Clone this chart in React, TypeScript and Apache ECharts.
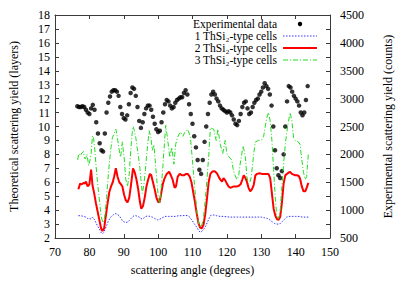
import React, { useEffect, useRef } from 'react';
import * as echarts from 'echarts';

const FONT = "'Liberation Serif','DejaVu Serif',serif";

// Experimental data: [scattering angle (deg), counts]
const experimental: [number, number][] = [
  [76.5, 2862], [77, 2850], [77.5, 2850], [78, 2862], [78.5, 2850], [79, 2800], [79.5, 2750], [80, 2725],
  [80.5, 2825], [81, 2888], [81.5, 2800], [82, 2575], [82.5, 2375], [83, 2200], [83.5, 2075], [84, 2050],
  [84.5, 2375], [85, 2750], [85.5, 2925], [86, 3038], [86.5, 3125], [87, 3150], [87.5, 3150], [88, 3125],
  [88.5, 3050], [89, 2850], [89.5, 2725], [90, 2650], [90.5, 2625], [91, 2700], [91.5, 2900], [92, 3100],
  [92.5, 3200], [93, 3175], [93.5, 3050], [94, 2850], [94.5, 2600], [95, 2475], [95.5, 2575], [96, 2725],
  [96.5, 2825], [97, 2875], [97.5, 2875], [98, 2800], [98.5, 2675], [99, 2550], [99.5, 2450], [100, 2400],
  [100.5, 2425], [101, 2575], [101.5, 2750], [102, 2900], [102.5, 2975], [103, 2950], [103.5, 2875], [104, 2825],
  [104.5, 2850], [105, 2925], [105.5, 2975], [106, 3000], [106.5, 3025], [107, 3025], [107.5, 3100], [108, 3150],
  [108.5, 3075], [109, 2900], [109.5, 2725], [110, 2550], [110.5, 2325], [111, 2125], [111.5, 1900], [112, 1725],
  [112.5, 1650], [113, 1900], [113.5, 2225], [114, 2500], [114.5, 2725], [115, 2925], [115.5, 3075], [116, 3125],
  [116.5, 3075], [117, 3000], [117.5, 2950], [118, 2875], [118.5, 2825], [119, 2800], [119.5, 2775], [120, 2750],
  [120.5, 2775], [121, 2750], [121.5, 2700], [122, 2625], [122.5, 2550], [123, 2525], [123.5, 2600], [124, 2725],
  [124.5, 2850], [125, 2925], [125.5, 2950], [126, 2825], [126.5, 2725], [127, 2750], [127.5, 2850], [128, 2925],
  [128.5, 2975], [129, 3000], [129.5, 3075], [130, 3125], [130.5, 3200], [131, 3275], [131.5, 3225], [132, 3175],
  [132.5, 3075], [133, 2875], [133.5, 2500], [134, 2075], [134.5, 1750], [135, 1625], [135.5, 1575], [136, 1700],
  [136.5, 2000], [137, 2500], [137.5, 2950], [138, 3225], [138.5, 3200], [139, 3125], [139.5, 3050], [140, 3000],
  [140.5, 2950], [141, 2875], [141.5, 2750], [142, 2700], [142.5, 2750], [143, 2975], [143.5, 3225],
];

// Theoretical yields (layers)
const oneCell: [number, number][] = [
  [76.8, 3.6], [77.5, 3.6], [78.3, 3.55], [79.0, 3.5], [79.5, 3.4], [80.0, 3.4], [80.5, 3.35], [80.9, 3.5],
  [81.4, 3.35], [81.9, 3.1], [82.4, 2.85], [82.9, 2.65], [83.4, 2.4], [83.8, 2.3], [84.2, 2.4], [84.6, 2.65],
  [85.1, 2.95], [85.6, 3.25], [86.2, 3.5], [86.7, 3.6], [87.2, 3.72], [87.7, 3.75], [88.2, 3.68], [88.7, 3.6],
  [89.2, 3.4], [89.6, 3.25], [90.1, 3.15], [90.6, 3.1], [91.1, 3.15], [91.6, 3.25], [92.1, 3.4], [92.5, 3.5],
  [93.0, 3.6], [93.5, 3.6], [94.0, 3.55], [94.5, 3.5], [95.0, 3.4], [95.4, 3.36], [95.9, 3.45], [96.4, 3.55],
  [97.0, 3.58], [97.6, 3.55], [98.3, 3.5], [99.0, 3.4], [99.8, 3.3], [100.5, 3.35], [101.2, 3.45], [102.0, 3.55],
  [103.0, 3.55], [104.0, 3.55], [105.0, 3.55], [106.0, 3.6], [107.0, 3.6], [108.0, 3.62], [108.6, 3.6], [109.2, 3.5],
  [109.9, 3.25], [110.4, 3.05], [110.9, 2.9], [111.4, 2.7], [111.9, 2.5], [112.3, 2.42], [112.8, 2.5], [113.3, 2.65],
  [113.8, 2.85], [114.3, 3.1], [114.8, 3.4], [115.2, 3.6], [115.7, 3.65], [116.2, 3.65], [117.0, 3.6], [118.0, 3.55],
  [119.0, 3.55], [120.0, 3.52], [121.0, 3.5], [122.0, 3.5], [123.0, 3.5], [124.0, 3.5], [125.0, 3.5], [126.0, 3.5],
  [127.0, 3.5], [128.0, 3.5], [129.0, 3.5], [130.0, 3.5], [131.0, 3.45], [131.8, 3.4], [132.6, 3.3], [133.2, 3.15],
  [133.8, 3.05], [134.4, 3.0], [135.0, 3.0], [135.6, 3.05], [136.2, 3.2], [136.8, 3.35], [137.4, 3.5], [138.0, 3.55],
  [139.0, 3.55], [140.0, 3.55], [141.0, 3.55], [142.0, 3.5], [143.0, 3.5], [143.7, 3.5],
];

const twoCells: [number, number][] = [
  [76.8, 5.5], [77.3, 5.9], [77.8, 5.85], [78.3, 5.95], [78.7, 5.9], [79.0, 6.05], [79.5, 5.7], [80.0, 5.85],
  [80.5, 6.9], [80.9, 5.8], [81.4, 5.2], [81.9, 4.5], [82.4, 3.9], [82.9, 3.3], [83.4, 2.7], [83.8, 2.5],
  [84.3, 2.7], [84.8, 3.6], [85.3, 4.5], [85.8, 5.3], [86.3, 5.7], [86.8, 6.0], [87.2, 6.4], [87.7, 7.0],
  [88.2, 6.4], [88.7, 6.0], [89.2, 5.85], [89.6, 5.7], [90.1, 5.1], [90.6, 4.7], [91.1, 4.55], [91.6, 4.9],
  [92.1, 5.8], [92.7, 7.0], [93.2, 6.7], [93.7, 6.2], [94.2, 5.5], [94.7, 4.6], [95.1, 4.1], [95.6, 4.3],
  [96.1, 4.9], [96.6, 5.7], [97.1, 6.2], [97.6, 6.6], [98.0, 6.5], [98.5, 6.0], [99.0, 5.5], [99.5, 4.9],
  [100.0, 4.6], [100.4, 4.55], [100.9, 5.2], [101.4, 5.9], [101.9, 6.3], [102.5, 6.6], [103.2, 6.75], [103.7, 6.5],
  [104.2, 6.2], [104.8, 5.6], [105.2, 5.7], [105.7, 6.4], [106.3, 6.6], [107.0, 6.5], [107.6, 6.5], [108.1, 6.6],
  [108.6, 6.6], [109.2, 6.4], [109.7, 6.0], [110.2, 5.3], [110.7, 4.6], [111.2, 3.8], [111.7, 3.1], [112.2, 2.75],
  [112.7, 2.7], [113.2, 2.95], [113.7, 3.7], [114.2, 4.8], [114.7, 6.0], [115.2, 6.6], [115.7, 6.75], [116.2, 6.8],
  [116.7, 6.75], [117.2, 6.6], [117.7, 6.35], [118.2, 6.15], [118.6, 6.05], [119.0, 6.3], [119.5, 6.15], [120.0, 5.9],
  [120.5, 5.7], [121.0, 5.6], [121.5, 5.65], [122.0, 5.7], [122.5, 5.7], [123.0, 5.7], [123.5, 5.75], [124.0, 5.85],
  [124.5, 6.2], [124.9, 6.5], [125.4, 6.3], [125.8, 6.05], [126.3, 5.6], [126.8, 5.35], [127.3, 5.5], [127.8, 5.8],
  [128.3, 6.5], [128.8, 6.6], [129.5, 6.65], [130.2, 6.6], [130.9, 6.6], [131.5, 6.6], [132.1, 6.6], [132.6, 6.3],
  [133.1, 5.2], [133.6, 4.1], [134.1, 3.6], [134.6, 3.35], [135.0, 3.3], [135.5, 3.5], [136.0, 4.5], [136.5, 5.9],
  [137.0, 6.5], [137.5, 6.6], [138.0, 6.7], [138.4, 6.75], [138.9, 6.6], [139.4, 6.55], [139.9, 6.5], [140.4, 6.5],
  [140.9, 6.45], [141.3, 6.25], [141.8, 5.7], [142.3, 5.35], [142.8, 5.35], [143.2, 5.6], [143.7, 5.95],
];

const threeCells: [number, number][] = [
  [76.6, 7.6], [76.9, 8.05], [77.4, 7.9], [77.8, 8.1], [78.3, 8.2], [78.6, 7.7], [78.9, 7.7], [79.3, 8.0],
  [79.8, 7.2], [80.2, 7.6], [80.5, 8.05], [80.9, 9.34], [81.2, 9.2], [81.6, 8.3], [81.9, 7.3], [82.3, 6.2],
  [82.7, 5.2], [83.1, 4.3], [83.4, 3.6], [83.9, 3.1], [84.3, 3.3], [84.6, 3.8], [85.0, 4.9], [85.3, 5.9],
  [85.6, 6.8], [85.9, 7.6], [86.3, 8.5], [86.7, 9.2], [87.2, 9.5], [87.7, 9.8], [88.1, 9.3], [88.5, 8.6],
  [88.8, 8.1], [89.1, 7.8], [89.4, 8.5], [89.6, 8.9], [89.9, 8.2], [90.1, 7.8], [90.4, 6.8], [90.6, 6.2],
  [91.1, 5.7], [91.6, 6.6], [92.1, 8.5], [92.4, 9.4], [92.7, 10.0], [93.1, 9.7], [93.5, 9.2], [93.9, 8.5],
  [94.3, 7.8], [94.7, 7.0], [95.0, 6.2], [95.4, 5.2], [95.9, 5.9], [96.3, 6.9], [96.6, 7.8], [97.0, 8.8],
  [97.4, 9.7], [97.9, 9.2], [98.3, 8.3], [98.8, 8.7], [99.3, 7.1], [99.7, 5.9], [100.1, 4.8], [100.5, 4.5],
  [101.0, 5.9], [101.4, 7.2], [101.7, 8.3], [102.2, 10.1], [102.7, 9.2], [103.1, 8.4], [103.4, 7.8], [104.0, 8.5],
  [104.6, 7.3], [105.1, 8.7], [105.6, 9.2], [106.0, 9.4], [106.5, 9.6], [107.2, 9.3], [107.8, 9.6], [108.5, 9.8],
  [108.9, 9.6], [109.4, 9.2], [109.9, 7.8], [110.3, 6.6], [110.7, 5.5], [111.3, 3.8], [111.8, 3.0], [112.3, 2.75],
  [112.8, 3.0], [113.2, 3.4], [113.8, 5.0], [114.2, 6.2], [114.7, 7.8], [115.2, 9.9], [115.7, 9.85], [116.2, 9.8],
  [116.6, 9.3], [116.9, 9.0], [117.4, 9.8], [117.8, 9.2], [118.1, 8.7], [118.8, 8.05], [119.5, 9.0], [120.0, 8.05],
  [120.7, 7.8], [121.4, 7.6], [121.8, 7.0], [122.2, 6.6], [122.9, 6.2], [123.4, 6.4], [123.8, 7.2], [124.2, 7.8],
  [124.7, 8.6], [125.0, 8.3], [125.4, 7.8], [125.8, 6.4], [126.3, 5.9], [126.7, 6.0], [127.1, 6.4], [127.5, 7.3],
  [127.8, 8.05], [128.3, 8.9], [129.2, 9.0], [130.2, 9.05], [130.7, 9.3], [131.1, 9.9], [131.6, 10.6], [132.1, 11.0],
  [132.6, 10.4], [133.1, 9.0], [133.6, 6.9], [134.1, 4.8], [134.5, 3.6], [135.0, 3.4], [135.5, 3.9], [136.0, 5.7],
  [136.5, 7.3], [137.0, 8.75], [137.4, 9.5], [137.8, 10.2], [138.4, 11.0], [138.9, 10.4], [139.4, 9.2], [139.8, 9.0],
  [140.3, 8.95], [140.8, 8.9], [141.3, 8.7], [141.8, 7.6], [142.3, 6.7], [142.8, 6.2], [143.2, 6.4], [143.7, 8.0],
];

const legendLabels = [
  'Experimental data',
  '1 ThSi\u2082-type cells',
  '2 ThSi\u2082-type cells',
  '3 ThSi\u2082-type cells',
];

const COLORS = { exp: '#000000', one: '#3333ff', two: '#ff0000', three: '#22dd22' };
const AXIS_COLOR = '#3a3a3a';

export default function App() {
  const ref = useRef<HTMLDivElement>(null);

  useEffect(() => {
    document.body.style.margin = '0';
    if (!ref.current) return;
    const chart = echarts.init(ref.current, undefined, { renderer: 'svg' });

    const axisCommon = {
      axisLine: { show: true, lineStyle: { color: AXIS_COLOR, width: 1 } },
      axisTick: { show: true, inside: true, length: 4, lineStyle: { color: AXIS_COLOR } },
      splitLine: { show: false },
    };
    const labelStyle = { color: '#000', fontFamily: FONT, fontSize: 12 };
    const nameStyle = { color: '#000', fontFamily: FONT, fontSize: 12 };

    const legendRowY = [24, 36, 48, 60];
    const textRight = 277;
    const sampleX1 = 283;
    const sampleX2 = 317;

    const graphics: any[] = legendLabels.map((t, i) => ({
      type: 'text',
      x: textRight,
      y: legendRowY[i],
      style: {
        text: t,
        align: 'right',
        verticalAlign: 'middle',
        fontFamily: FONT,
        fontSize: 11.5,
        lineHeight: 11,
        fill: '#000',
      },
    }));
    graphics.push({
      type: 'circle',
      shape: { cx: (sampleX1 + sampleX2) / 2, cy: legendRowY[0], r: 2.2 },
      style: { fill: COLORS.exp },
    });
    graphics.push({
      type: 'line',
      shape: { x1: sampleX1, y1: legendRowY[1], x2: sampleX2, y2: legendRowY[1] },
      style: { stroke: COLORS.one, lineWidth: 1, lineDash: [1.5, 1.5] },
    });
    graphics.push({
      type: 'line',
      shape: { x1: sampleX1, y1: legendRowY[2], x2: sampleX2, y2: legendRowY[2] },
      style: { stroke: COLORS.two, lineWidth: 2 },
    });
    graphics.push({
      type: 'line',
      shape: { x1: sampleX1, y1: legendRowY[3], x2: sampleX2, y2: legendRowY[3] },
      style: { stroke: COLORS.three, lineWidth: 1, lineDash: [5, 2, 1, 2] },
    });

    chart.setOption({
      animation: false,
      backgroundColor: '#ffffff',
      grid: { left: 55, right: 70, top: 15, bottom: 38 },
      xAxis: [
        {
          type: 'value', min: 70, max: 150, interval: 10, position: 'bottom',
          ...axisCommon,
          axisLabel: { ...labelStyle, margin: 8 },
          name: 'scattering angle (degrees)', nameLocation: 'middle', nameGap: 26,
          nameTextStyle: nameStyle,
        },
        {
          type: 'value', min: 70, max: 150, interval: 10, position: 'top',
          ...axisCommon,
          axisLabel: { show: false },
        },
      ],
      yAxis: [
        {
          type: 'value', min: 2, max: 18, interval: 1, position: 'left',
          ...axisCommon,
          axisLabel: { ...labelStyle, margin: 5 },
          name: 'Theoretical scattering yield (layers)', nameLocation: 'middle', nameGap: 35,
          nameTextStyle: nameStyle,
        },
        {
          type: 'value', min: 500, max: 4500, interval: 250, position: 'right',
          ...axisCommon,
          axisLabel: {
            ...labelStyle, margin: 10,
            formatter: (v: number) => (v % 500 === 0 ? String(v) : ''),
          },
          name: 'Experimental scattering yield (counts)', nameLocation: 'middle', nameGap: 52,
          nameTextStyle: nameStyle,
        },
      ],
      series: [
        {
          name: 'Experimental data', type: 'scatter', xAxisIndex: 0, yAxisIndex: 1,
          data: experimental, symbol: 'circle', symbolSize: 4.5,
          itemStyle: { color: COLORS.exp },
        },
        {
          name: '1 ThSi2-type cells', type: 'line', xAxisIndex: 0, yAxisIndex: 0,
          data: oneCell, symbol: 'none', showSymbol: false,
          lineStyle: { color: COLORS.one, width: 1, type: [1.5, 1.5] },
        },
        {
          name: '2 ThSi2-type cells', type: 'line', xAxisIndex: 0, yAxisIndex: 0,
          data: twoCells, symbol: 'none', showSymbol: false,
          lineStyle: { color: COLORS.two, width: 2 },
        },
        {
          name: '3 ThSi2-type cells', type: 'line', xAxisIndex: 0, yAxisIndex: 0,
          data: threeCells, symbol: 'none', showSymbol: false,
          lineStyle: { color: COLORS.three, width: 1, type: [5, 2, 1, 2] },
        },
      ],
      graphic: graphics,
    });

    return () => chart.dispose();
  }, []);

  return <div ref={ref} style={{ width: 402, height: 281 }} />;
}
